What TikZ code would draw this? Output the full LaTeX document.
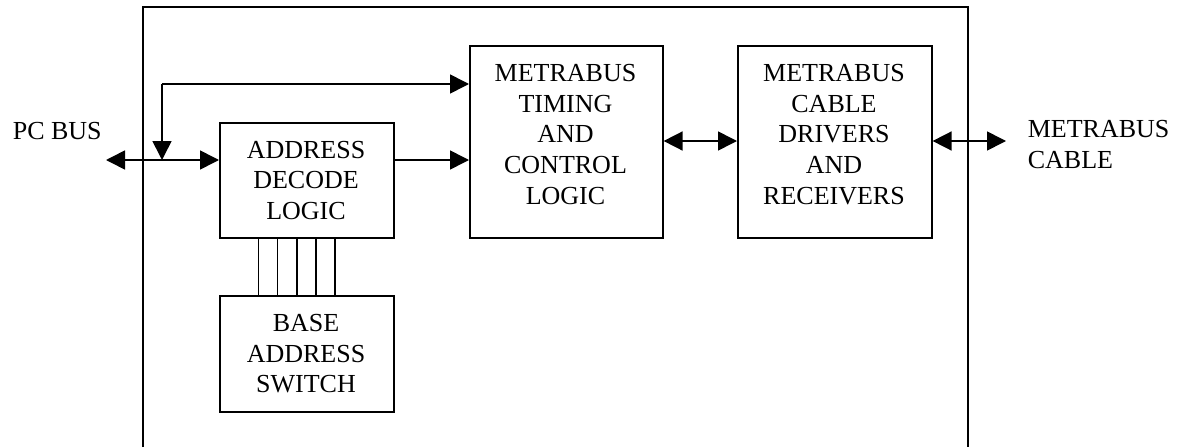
\documentclass[tikz,border=0pt]{standalone}
\usepackage{fontspec}
\setmainfont{Liberation Serif}
\usetikzlibrary{arrows.meta,calc}
\begin{document}
\begin{tikzpicture}[x=1pt,y=-1pt,
  line width=1.6pt,
  tip/.tip={Triangle[length=19pt,width=19pt]},
  blk/.style={draw,line width=1.6pt,inner sep=0pt,minimum width=#1,anchor=north west},
  txt/.style={inner sep=0pt,align=center,anchor=north,font=\fontsize{26}{30.8}\selectfont},
  ltxt/.style={inner sep=0pt,align=left,anchor=north west,font=\fontsize{26}{30.8}\selectfont},
  conn/.style={line width=1.6pt}]
\useasboundingbox (0,0) rectangle (1180,447);
% outer frame (bottom edge falls outside the picture)
\draw[line width=1.8pt] (143,447) -- (143,7) -- (968,7) -- (968,447);
% blocks
\node[blk=174pt,minimum height=115pt] (decode) at (219,122) {};
\node[blk=174pt,minimum height=116pt] (base) at (219,295) {};
\node[blk=193pt,minimum height=192pt] (timing) at (469,45) {};
\node[blk=194pt,minimum height=192pt] (drivers) at (737,45) {};
% texts
\node[txt] (tdecode) at (306,140) {ADDRESS\\DECODE\\LOGIC};
\node[txt] (tbase) at (306,313.3) {BASE\\ADDRESS\\SWITCH};
\node[txt] (ttiming) at (565.5,63.3) {METRABUS\\TIMING\\AND\\CONTROL\\LOGIC};
\node[txt] (tdrivers) at (834,63.3) {METRABUS\\CABLE\\DRIVERS\\AND\\RECEIVERS};
\node[ltxt] (pcbus) at (12,121.5) {PC BUS};
\node[ltxt] (cable) at (1027,119.5) {METRABUS\\CABLE};
% connectors
\coordinate (pcin) at (106,160);
\coordinate (tap) at (162,160);
\coordinate (tapt) at (162,84);
\coordinate (mid) at (0,141);
\coordinate (cableend) at (1006,141);
\draw[conn,{tip}-{tip}] (pcin) -- (pcin -| decode.west);
\draw[conn,-{tip}] (tapt) -- (tap);
\draw[conn,-{tip}] (tapt) -- (tapt -| timing.west);
\draw[conn,-{tip}] (pcin -| decode.east) -- (pcin -| timing.west);
\draw[conn,{tip}-{tip}] (mid -| timing.east) -- (mid -| drivers.west);
\draw[conn,{tip}-{tip}] (cableend -| drivers.east) -- (cableend);
% switch lines
\foreach \xx in {258.3,277.5,296.7,316,335.2}
  \draw[conn] (decode.south -| {\xx},0) -- (base.north -| {\xx},0);
\end{tikzpicture}
\end{document}
